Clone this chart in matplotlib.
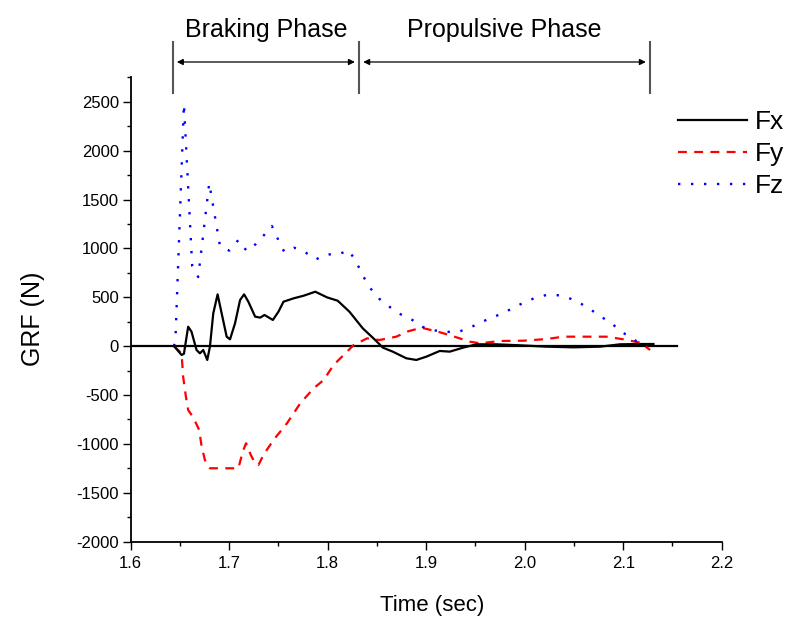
import matplotlib
matplotlib.use("Agg")
import matplotlib.pyplot as plt
from matplotlib.ticker import MultipleLocator, FormatStrFormatter
import matplotlib.transforms as mtransforms

plt.rcParams['font.family'] = ['Liberation Sans', 'DejaVu Sans']
plt.rcParams['axes.unicode_minus'] = False

# ---------------- data ----------------
fx_t = [1.644, 1.6516, 1.654, 1.6583, 1.6617, 1.6668, 1.6702, 1.6736, 1.6777, 1.6804,
        1.6838, 1.6882, 1.6923, 1.6974, 1.7008, 1.7059, 1.711, 1.7151, 1.7194, 1.7263,
        1.7314, 1.7358, 1.7443, 1.750, 1.7551, 1.7653, 1.7755, 1.7874, 1.7993, 1.8101,
        1.822, 1.8356, 1.8475, 1.856, 1.866, 1.8798, 1.890, 1.9002, 1.9137, 1.9239,
        1.9375, 1.951, 1.9714, 1.995, 2.0221, 2.0492, 2.0764, 2.0968, 2.1172, 2.1307]
fx_v = [0, -90, -78, 199, 148, -39, -73, -39, -141, -5,
        336, 530, 336, 97, 70, 234, 472, 530, 455, 302,
        292, 319, 268, 353, 455, 489, 516, 557, 499, 465,
        353, 182, 70, -15, -56, -124, -141, -107, -49, -56,
        -15, 19, 19, 9, -5, -12, -5, 19, 22, 22]

fy_t = [1.644, 1.6516, 1.6532, 1.656, 1.6583, 1.6634, 1.6695, 1.672, 1.6753, 1.6804,
        1.7093, 1.7137, 1.7171, 1.7219, 1.7263, 1.7297, 1.7347, 1.745, 1.7586, 1.7721,
        1.7857, 1.7959, 1.806, 1.8162, 1.8264, 1.840, 1.8526, 1.8696, 1.881, 1.895,
        1.912, 1.9256, 1.9443, 1.9545, 1.9748, 1.9986, 2.0224, 2.039, 2.0594, 2.083,
        2.1002, 2.1172, 2.1273]
fy_v = [0, -73, -312, -516, -653, -728, -857, -1028, -1164, -1249,
        -1249, -1079, -993, -1113, -1198, -1215, -1113, -959, -789, -585,
        -431, -346, -192, -90, 12, 80, 63, 97, 150, 189,
        148, 107, 46, 29, 53, 56, 73, 97, 97, 97,
        70, 36, -39]

fz_t = [1.644, 1.6455, 1.654, 1.6624, 1.6685, 1.6797, 1.6906, 1.700, 1.7093, 1.7178,
        1.727, 1.7354, 1.7433, 1.7494, 1.7558, 1.766, 1.7772, 1.788, 1.7993, 1.8105,
        1.8214, 1.8289, 1.835, 1.8424, 1.8526, 1.8635, 1.874, 1.8859, 1.896, 1.9076,
        1.9198, 1.9314, 1.9426, 1.9545, 1.9657, 1.9772, 1.9884, 1.9996, 2.011, 2.023,
        2.035, 2.0466, 2.0577, 2.069, 2.0797, 2.091, 2.1019, 2.1131, 2.1205, 2.127]
fz_v = [0, 100, 2477, 820, 707, 1668, 1024, 977, 1086, 973,
        1045, 1137, 1229, 1096, 966, 1007, 960, 888, 939, 939,
        980, 864, 735, 602, 482, 397, 326, 268, 199, 162,
        148, 142, 182, 237, 291, 332, 393, 448, 496, 526,
        520, 485, 431, 360, 288, 209, 124, 53, 43, 0]

baseline_t = [1.6, 2.155]
baseline_v = [0, 0]

phase_bounds = [1.6426, 1.8318, 2.1272]
phase_names = ["Braking Phase", "Propulsive Phase"]

series_labels = ["Fx", "Fy", "Fz"]
x_label = "Time (sec)"
y_label = "GRF (N)"

# ---------------- figure ----------------
fig = plt.figure(figsize=(7.89, 6.23), dpi=100)
ax = fig.add_axes([0.1657, 0.1305, 0.749, 0.7454])

ax.plot(baseline_t, baseline_v, color='black', lw=1.6, zorder=1)
ax.plot(fx_t, fx_v, color='black', lw=1.6, label=series_labels[0], zorder=3)
ax.plot(fy_t, fy_v, color='#ff0000', lw=1.6, linestyle=(0, (4, 3.3)), label=series_labels[1], zorder=2)
ax.plot(fz_t, fz_v, color='#0000ff', lw=1.7, linestyle=(0, (1, 4.5)), label=series_labels[2], zorder=2)

ax.set_xlim(1.6, 2.2)
ax.set_ylim(-2000, 2750)
ax.xaxis.set_major_locator(MultipleLocator(0.1))
ax.xaxis.set_minor_locator(MultipleLocator(0.05))
ax.yaxis.set_major_locator(MultipleLocator(500))
ax.yaxis.set_minor_locator(MultipleLocator(250))
ax.xaxis.set_major_formatter(FormatStrFormatter('%.1f'))
ax.yaxis.set_major_formatter(FormatStrFormatter('%d'))

for s in ['top', 'right']:
    ax.spines[s].set_visible(False)
for s in ['left', 'bottom']:
    ax.spines[s].set_linewidth(1.3)
ax.tick_params(which='major', direction='out', length=5.5, width=1.0, labelsize=12, pad=3)
ax.tick_params(which='minor', direction='out', length=3, width=1.0)
ax.tick_params(axis='x', which='major', pad=5)

ax.set_xlabel(x_label, fontsize=16)
ax.set_ylabel(y_label, fontsize=18)
ax.xaxis.set_label_coords(0.51, -0.115)
ax.yaxis.set_label_coords(-0.145, 0.48)

leg = ax.legend(loc='upper left', bbox_to_anchor=(678 / 789, 1 - 110 / 623),
                bbox_transform=fig.transFigure, frameon=False, fontsize=19,
                handlelength=2.6, handletextpad=0.3, labelspacing=0.3,
                borderpad=0, borderaxespad=0)

# phase annotations
trans = mtransforms.blended_transform_factory(ax.transData, fig.transFigure)
y_lo, y_hi, y_arrow, y_text = 1 - 93 / 623, 1 - 42 / 623, 1 - 62 / 623, 1 - 30 / 623
for b in phase_bounds:
    ax.plot([b, b], [y_lo, y_hi], transform=trans, color='#555555', lw=1.5, clip_on=False)
for i, name in enumerate(phase_names):
    a, b = phase_bounds[i], phase_bounds[i + 1]
    ax.annotate('', xy=(b, y_arrow), xytext=(a, y_arrow), xycoords=trans, textcoords=trans,
                arrowprops=dict(arrowstyle='<|-|>', color='black', lw=0.9,
                                mutation_scale=9, shrinkA=3, shrinkB=3), annotation_clip=False)
    ax.text((a + b) / 2, y_text, name, transform=trans, ha='center', va='center', fontsize=18)

fig.savefig('out.png', dpi=100)
